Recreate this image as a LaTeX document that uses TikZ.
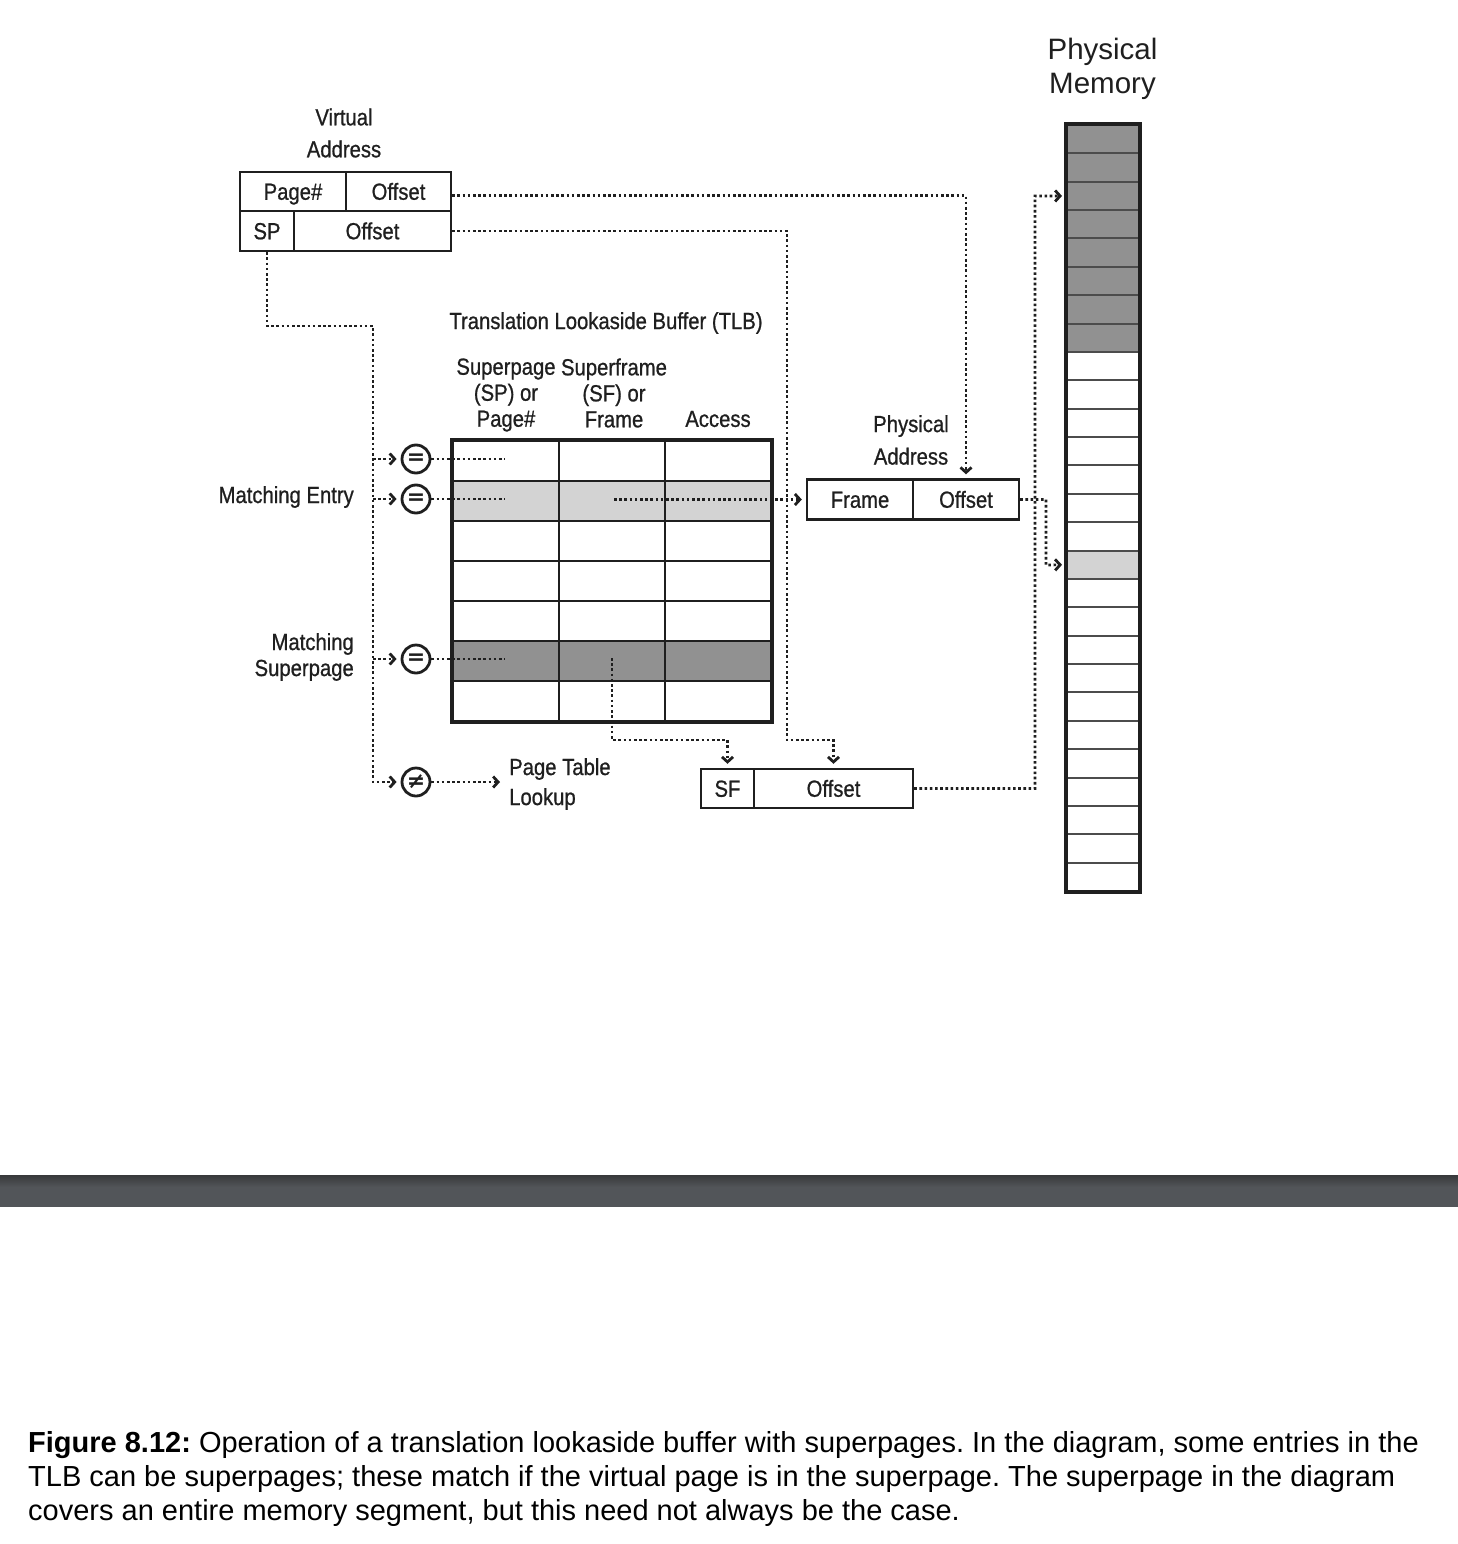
\documentclass[tikz,border=0pt]{standalone}
\usepackage{fontspec}
\setmainfont{Liberation Sans}
\newfontfamily\cfont[FakeStretch=0.87,FakeBold=0.8]{Liberation Sans}
\newfontfamily\symfont{DejaVu Sans}
\usetikzlibrary{arrows.meta,calc}
\definecolor{darkrow}{HTML}{919191}
\definecolor{lightrow}{HTML}{D3D3D3}
\definecolor{ink}{HTML}{1F1F1F}
\definecolor{bartop}{HTML}{38393B}
\definecolor{barmain}{HTML}{525559}
\begin{document}
\begin{tikzpicture}[x=1pt,y=-1pt,
  lbl/.style={font=\cfont\fontsize{23.3}{26}\selectfont, inner sep=0pt, text=ink},
  cell/.style={draw=ink, line width=2.4pt, inner sep=0pt, text height=16.5pt, text depth=0pt,
    font=\cfont\fontsize{23.3}{26}\selectfont, text=ink},
  tcell/.style={draw=ink, line width=2pt, minimum width=106pt, minimum height=40pt, inner sep=0pt},
  mcell/.style={draw=ink!80, line width=2pt, minimum width=72pt, minimum height=28.37pt, inner sep=0pt},
  cmp/.style={circle, draw=ink, line width=2.8pt, minimum size=28pt, inner sep=0pt, text=ink,
    font=\symfont\bfseries\fontsize{22}{22}\selectfont},
  dots/.style={draw=ink, line width=2.7pt, dash pattern=on 2.6pt off 2.6pt},
  tip/.style={-{Straight Barb[length=5pt,width=11pt,line width=2.8pt]}, shorten >=4pt},
  rowfill1/.style={}, rowfill2/.style={fill=lightrow}, rowfill3/.style={},
  rowfill4/.style={}, rowfill5/.style={}, rowfill6/.style={fill=darkrow}, rowfill7/.style={},
]
\fill[white] (0,0) rectangle (1458,1544);
\useasboundingbox (0,0) rectangle (1458,1544);

% Virtual address
\node[lbl, align=center] (valbl) at (344,133) {Virtual\\[6pt]Address};
\node[cell, minimum width=106pt, minimum height=39pt] (vpage) at (293,191.5) {Page\#};
\node[cell, minimum width=105pt, minimum height=39pt] (voffa) at (398.5,191.5) {Offset};
\node[cell, minimum width=54pt, minimum height=40pt] (vsp) at (267,231) {SP};
\node[cell, minimum width=157pt, minimum height=40pt] (voffb) at (372.5,231) {Offset};

% TLB
\node[lbl] (tlbl) at (606,323) {Translation Lookaside Buffer (TLB)};
\node[lbl, align=center] (h1) at (506,395) {Superpage\\(SP) or\\Page\#};
\node[lbl, align=center] (h2) at (614,393) {Superframe\\(SF) or\\Frame};
\node[lbl] (h3) at (718,419) {Access};
\foreach \r in {1,...,7}
  \foreach \c in {1,2,3}
    \node[tcell, rowfill\r] (t\r\c) at ({453+106*(\c-0.5)},{441+40*(\r-0.5)}) {};
\draw[ink, line width=3.2pt] (t11.north west) rectangle (t73.south east);

% labels left
\node[lbl, anchor=east] (melbl) at (354,497) {Matching Entry};
\node[lbl, anchor=east, align=right] (mslbl) at (354,657) {Matching\\Superpage};

% comparators
\node[cmp] (cmp1) at (416,459) {=};
\node[cmp] (cmp2) at (416,499) {=};
\node[cmp] (cmp3) at (416,659) {=};
\node[cmp] (cmp4) at (416,782) {≠};
\node[lbl, anchor=west, align=left, inner xsep=5pt] (ptl) at (504,784) {Page Table\\[4pt]Lookup};

% physical address
\node[lbl, align=center] (palbl) at (911,440) {Physical\\[6.5pt]Address};
\node[cell, minimum width=106pt, minimum height=40pt] (frame) at (860,499.5) {Frame};
\node[cell, minimum width=106pt, minimum height=40pt] (poff) at (966,499.5) {Offset};

% SF / offset
\node[cell, minimum width=53pt, minimum height=39pt] (sf) at (727.5,788.5) {SF};
\node[cell, minimum width=159pt, minimum height=39pt] (soff) at (833.5,788.5) {Offset};

% physical memory
\node[font=\fontsize{29.5}{34.3}\selectfont, align=center, inner sep=0pt, text=ink] (pmlbl) at (1102.5,69) {Physical\\Memory};
\foreach \i in {1,...,8}
  \node[mcell, fill=darkrow] (m\i) at (1103,{125+(\i-0.5)*28.37}) {};
\foreach \i in {9,...,15}
  \node[mcell, fill=white] (m\i) at (1103,{125+(\i-0.5)*28.37}) {};
\node[mcell, fill=lightrow] (m16) at (1103,{125+15.5*28.37}) {};
\foreach \i in {17,...,27}
  \node[mcell, fill=white] (m\i) at (1103,{125+(\i-0.5)*28.37}) {};
\draw[ink, line width=3.2pt] (m1.north west) rectangle (m27.south east);

% coordinates
\coordinate (sp1) at (373,326);
\coordinate (e1) at (505,459);
\coordinate (e2) at (505,499);
\coordinate (e3) at (505,659);
\coordinate (me) at (614,499.5);
\coordinate (spd) at (612,658);
\coordinate (j2) at (612,740);
\coordinate (j1) at (787,740);
\coordinate (j4) at (1035,196);
\coordinate (j5) at (1046,565);

% connectors
\draw[dots,tip] (vsp.south) |- (sp1) |- (cmp4.west);
\foreach \k in {1,2,3}
  \draw[dots,tip] (sp1 |- cmp\k) -- (cmp\k.west);
\foreach \k in {1,2,3}
  \draw[dots] (cmp\k.east) -- (e\k);
\draw[dots,tip] (cmp4.east) -- (cmp4.east -| ptl.west);
\draw[dots,tip] (me) -- (frame.west);
\draw[dots,tip] (spd) -- (j2) -| (sf.north);
\draw[dots,tip] (voffb.east) -| (j1) -| (soff.north);
\draw[dots,tip] ([yshift=-4pt]voffa.east) -| (poff.north);
\draw[dots,tip] (soff.east) -| (j4) -- (m3.west);
\draw[dots,tip] (poff.east) -| (j5) -- (m16.west);

% bar
\shade[top color=bartop, bottom color=barmain] (0,1175) rectangle (1458,1187);
\fill[barmain] (0,1187) rectangle (1458,1207);

% caption
\node[font=\fontsize{29}{34}\selectfont\frenchspacing, align=left, anchor=west, inner sep=0pt, text=black] (cap) at (28,1479)
  {\textbf{Figure 8.12:} Operation of a translation lookaside buffer with superpages. In the diagram, some entries in the\\
   TLB can be superpages; these match if the virtual page is in the superpage. The superpage in the diagram\\
   covers an entire memory segment, but this need not always be the case.};
\end{tikzpicture}
\end{document}
